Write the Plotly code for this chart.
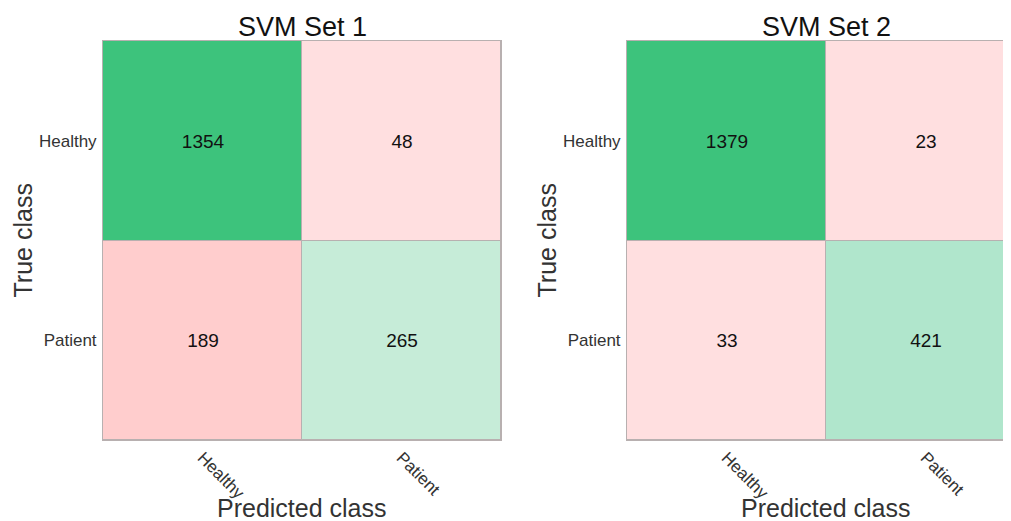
import plotly.graph_objects as go

classes = ["Healthy", "Patient"]
titles = ["SVM Set 1", "SVM Set 2"]
# rows = true class, cols = predicted class
set1 = [[1354, 48], [189, 265]]
set2 = [[1379, 23], [33, 421]]
cell_colors1 = [["#3dc37c", "#ffdfe0"], ["#ffcdcd", "#c6ecd8"]]
cell_colors2 = [["#3dc37c", "#ffdfe0"], ["#ffdfe0", "#b0e6cc"]]

# page body has an 8px margin; figure is sized to fill the rest of the window
OFF = 8
W, H = 1011 - OFF, 521 - OFF
FONT = "Liberation Sans, Arial, sans-serif"

fig = go.Figure()

def px_x(p):
    return (p - OFF) / W

def px_y(p):
    return 1 - (p - OFF) / H

# screen-pixel positions (reference)
panels = [
    dict(data=set1, colors=cell_colors1, title=titles[0], x0=103, x1=501),
    dict(data=set2, colors=cell_colors2, title=titles[1], x0=627, x1=1025),
]
top, bottom = 41, 440

for i, p in enumerate(panels):
    suffix = "" if i == 0 else "2"
    flat_colors = [c for row in p["colors"] for c in row]
    n = len(flat_colors)
    z = [[r * 2 + c for c in range(2)] for r in range(2)]
    cs = [[k / (n - 1), col] for k, col in enumerate(flat_colors)]
    fig.add_trace(go.Heatmap(
        z=z, x=[0, 1], y=[0, 1],
        text=[[str(v) for v in row] for row in p["data"]],
        texttemplate="%{text}",
        textfont=dict(size=19, color="#111", family=FONT),
        colorscale=cs, zmin=0, zmax=n - 1, showscale=False,
        xgap=1, ygap=1, hoverinfo="skip",
        xaxis="x" + suffix, yaxis="y" + suffix,
    ))
    visible_x1 = min(p["x1"], 1011)
    width_frac = (visible_x1 - p["x0"]) / (p["x1"] - p["x0"])
    xr = [-0.5, -0.5 + 2 * width_frac]
    fig.layout["xaxis" + suffix] = dict(
        domain=[px_x(p["x0"]), min(1.0, px_x(visible_x1))], range=xr,
        tickvals=[0, 1], ticktext=classes, tickangle=45,
        tickfont=dict(size=17, family=FONT, color="#333"),
        showgrid=False, zeroline=False, showline=True, mirror=True,
        linecolor="#b8b0b0", linewidth=1, ticks="", anchor="y" + suffix,
        fixedrange=True,
    )
    fig.layout["yaxis" + suffix] = dict(
        domain=[px_y(bottom), px_y(top)], range=[1.5, -0.5],
        tickvals=[0, 1], ticktext=classes,
        tickfont=dict(size=17, family=FONT, color="#333"),
        showgrid=False, zeroline=False, showline=True, mirror=(i == 0),
        linecolor="#b8b0b0", linewidth=1, ticks="", anchor="x" + suffix,
        ticklabelstandoff=2, fixedrange=True,
    )
    cx = (p["x0"] + p["x1"]) / 2
    fig.add_annotation(text=p["title"], x=px_x(cx), y=px_y(27), xref="paper", yref="paper",
                       showarrow=False, font=dict(size=27, family=FONT, color="#111"),
                       xanchor="center", yanchor="middle")
    fig.add_annotation(text="Predicted class", x=px_x(cx), y=px_y(508), xref="paper", yref="paper",
                       showarrow=False, font=dict(size=25, family=FONT, color="#333"),
                       xanchor="center", yanchor="middle")
    fig.add_annotation(text="True class", x=px_x(p["x0"] - 81), y=px_y((top + bottom) / 2),
                       xref="paper", yref="paper", textangle=-90,
                       showarrow=False, font=dict(size=25, family=FONT, color="#333"),
                       xanchor="center", yanchor="middle")

fig.update_layout(
    width=W, height=H, margin=dict(l=0, r=0, t=0, b=0),
    plot_bgcolor="#b8b0b0", paper_bgcolor="white",
    showlegend=False,
)

fig.write_html("out.html")
